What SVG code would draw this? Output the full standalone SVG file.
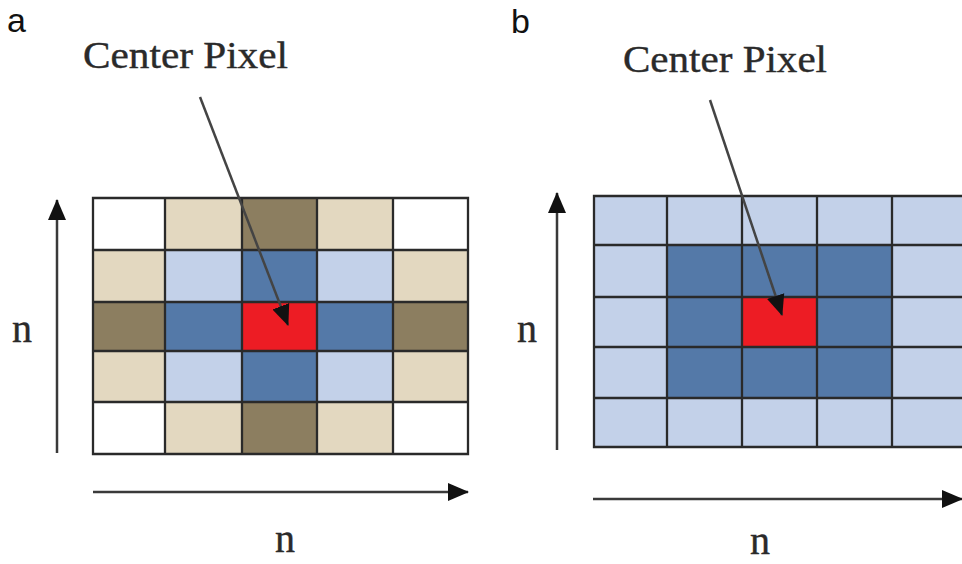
<svg xmlns="http://www.w3.org/2000/svg" width="962" height="564" viewBox="0 0 962 564">
  <style>
    .grid { stroke: #2a2a2a; stroke-width: 2.3; }
    .w { fill: #ffffff; }
    .tan { fill: #e3d8c0; }
    .dk { fill: #8c7e60; }
    .lb { fill: #c3d1e9; }
    .mb { fill: #5479a8; }
    .rd { fill: #ed1c24; }
    .axis { stroke: #3a3a3a; stroke-width: 2.5; fill: none; }
    .ptr { stroke: #444444; stroke-width: 2.5; fill: none; }
    .serif { font-family: "Liberation Serif", "Times New Roman", serif; fill: #2a2a2a; stroke: #2a2a2a; stroke-width: 0.4; }
    .panel { font-family: "Liberation Sans", Arial, sans-serif; font-size: 34px; fill: #111111; }
  </style>
  <defs>
    <marker id="head" markerUnits="userSpaceOnUse" markerWidth="22" markerHeight="20" viewBox="0 0 22 20" refX="20" refY="10" orient="auto">
      <path d="M0,1 L21,10 L0,19 Z" fill="#111111"/>
    </marker>
  </defs>
  <rect width="962" height="564" fill="#ffffff"/>

  <!-- Panel a -->
  <text class="panel" x="7" y="32">a</text>
  <g id="grid-a">
    <!-- row 0 -->
    <rect class="w" x="93" y="198" width="72" height="52"/>
    <rect class="tan" x="165" y="198" width="77" height="52"/>
    <rect class="dk" x="242" y="198" width="75" height="52"/>
    <rect class="tan" x="317" y="198" width="76" height="52"/>
    <rect class="w" x="393" y="198" width="75" height="52"/>
    <!-- row 1 -->
    <rect class="tan" x="93" y="250" width="72" height="52"/>
    <rect class="lb" x="165" y="250" width="77" height="52"/>
    <rect class="mb" x="242" y="250" width="75" height="52"/>
    <rect class="lb" x="317" y="250" width="76" height="52"/>
    <rect class="tan" x="393" y="250" width="75" height="52"/>
    <!-- row 2 -->
    <rect class="dk" x="93" y="302" width="72" height="49"/>
    <rect class="mb" x="165" y="302" width="77" height="49"/>
    <rect class="rd" x="242" y="302" width="75" height="49"/>
    <rect class="mb" x="317" y="302" width="76" height="49"/>
    <rect class="dk" x="393" y="302" width="75" height="49"/>
    <!-- row 3 -->
    <rect class="tan" x="93" y="351" width="72" height="51"/>
    <rect class="lb" x="165" y="351" width="77" height="51"/>
    <rect class="mb" x="242" y="351" width="75" height="51"/>
    <rect class="lb" x="317" y="351" width="76" height="51"/>
    <rect class="tan" x="393" y="351" width="75" height="51"/>
    <!-- row 4 -->
    <rect class="w" x="93" y="402" width="72" height="52"/>
    <rect class="tan" x="165" y="402" width="77" height="52"/>
    <rect class="dk" x="242" y="402" width="75" height="52"/>
    <rect class="tan" x="317" y="402" width="76" height="52"/>
    <rect class="w" x="393" y="402" width="75" height="52"/>
    <path class="grid" fill="none" d="M93,198 H468 V454 H93 Z M165,198 V454 M242,198 V454 M317,198 V454 M393,198 V454 M93,250 H468 M93,302 H468 M93,351 H468 M93,402 H468"/>
  </g>
  <g id="labels-a">
    <text class="serif" x="83" y="68" font-size="38" textLength="205" lengthAdjust="spacingAndGlyphs">Center Pixel</text>
    <text class="serif" x="12" y="342" font-size="40">n</text>
    <text class="serif" x="275" y="552" font-size="40">n</text>
  </g>

  <!-- Panel b -->
  <text class="panel" x="511" y="33">b</text>
  <g id="grid-b">
    <rect class="lb" x="594" y="196" width="375" height="251"/>
    <rect class="mb" x="667" y="245" width="225" height="153"/>
    <rect class="rd" x="742" y="297" width="75" height="50"/>
    <path class="grid" fill="none" d="M970,196 H594 V447 H970 M667,196 V447 M742,196 V447 M817,196 V447 M892,196 V447 M594,245 H970 M594,297 H970 M594,347 H970 M594,398 H970"/>
  </g>
  <g id="labels-b">
    <text class="serif" x="623" y="72" font-size="38" textLength="204" lengthAdjust="spacingAndGlyphs">Center Pixel</text>
    <text class="serif" x="517" y="342" font-size="40">n</text>
    <text class="serif" x="750" y="554" font-size="40">n</text>
  </g>

  <!-- Connectors: axis arrows and pointers -->
  <g id="connectors">
    <line class="axis" x1="57" y1="453" x2="57" y2="200" marker-end="url(#head)"/>
    <line class="axis" x1="93" y1="492" x2="468" y2="492" marker-end="url(#head)"/>
    <line class="axis" x1="557" y1="450" x2="557" y2="193" marker-end="url(#head)"/>
    <line class="axis" x1="593" y1="499" x2="962" y2="499" marker-end="url(#head)"/>
    <line class="ptr" x1="200" y1="97" x2="288" y2="325" marker-end="url(#head)"/>
    <line class="ptr" x1="710" y1="100" x2="782" y2="315" marker-end="url(#head)"/>
  </g>
</svg>
